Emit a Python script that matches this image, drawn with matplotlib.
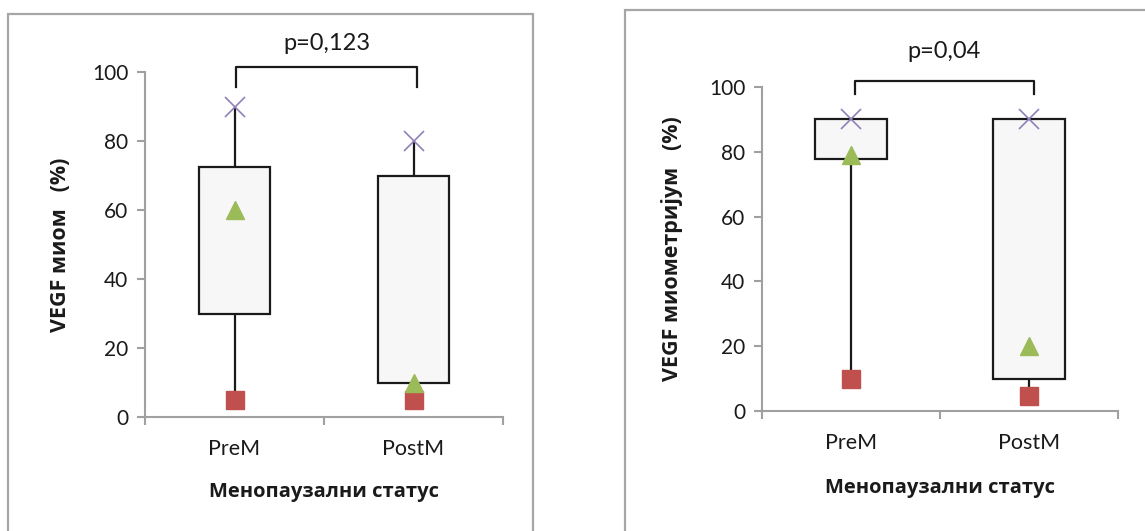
import matplotlib.pyplot as plt
from matplotlib.patches import Rectangle

plt.rcParams['font.family'] = ['Lato', 'Open Sans', 'DejaVu Sans']
LBL = ['Open Sans', 'DejaVu Sans']

W, H = 1145, 531

# podaci: lijevi graf (miom), desni graf (miometrijum)
groups = ['PreM', 'PostM']

mioma_max = [90, 80]
mioma_q3 = [72.5, 70]
mioma_q1 = [30, 10]
mioma_min = [5, 5]
mioma_tri = [60, 10]
mioma_p = 'p=0,123'

miomet_max = [90, 90]
miomet_q3 = [90, 90]
miomet_q1 = [77.8, 10]
miomet_min = [10, 4.5]
miomet_tri = [79, 20]
miomet_p = 'p=0,04'

yticks = [0, 20, 40, 60, 80, 100]


def px(x, y):
    return x / W, 1 - y / H


fig = plt.figure(figsize=(W / 100, H / 100), dpi=100)

# okviri oko grafova
for (x0, y0, x1, y1) in [(8, 14, 533, 540), (625, 10, 1150, 540)]:
    fig.patches.append(Rectangle(px(x0, y1), (x1 - x0) / W, (y1 - y0) / H,
                                 transform=fig.transFigure, fill=False,
                                 edgecolor='#a6a6a6', linewidth=1.6))


def draw(rect, vmax, q3, q1, vmin, tri, ptxt, ylabel, br, ylab_x, xlab_y, ptxt_y):
    ax = fig.add_axes(rect)
    x = [1, 2]
    ax.vlines(x, vmin, vmax, colors='#1a1a1a', linewidth=1.6, zorder=1)
    for xi, lo, hi in zip(x, q1, q3):
        ax.add_patch(Rectangle((xi - 0.2, lo), 0.4, hi - lo, facecolor='#f7f7f7',
                               edgecolor='#1a1a1a', linewidth=1.6, zorder=2))
    ax.plot(x, vmin, 's', color='#c0504d', markersize=13, zorder=3, clip_on=False)
    ax.plot(x, tri, '^', color='#9bbb59', markersize=13, zorder=4, clip_on=False)
    ax.plot(x, vmax, 'x', color='#9080b8', markersize=14, markeredgewidth=1.2,
            zorder=5, clip_on=False)

    ax.set_xlim(0.5, 2.5)
    ax.set_ylim(0, 100)
    ax.set_yticks(yticks)
    ax.set_xticks([0.5, 1.5, 2.5])
    ax.set_xticklabels([])
    ax.set_xticks(x, minor=True)
    ax.set_xticklabels(groups, minor=True, fontsize=15.5)
    ax.tick_params(axis='x', which='minor', length=0, pad=16, colors='#1a1a1a')
    ax.tick_params(axis='x', which='major', length=6, width=1.5, color='#a0a0a0')
    ax.tick_params(axis='y', length=6, width=1.5, color='#a0a0a0', labelsize=15,
                   labelcolor='#1a1a1a', pad=6)
    for s in ['top', 'right']:
        ax.spines[s].set_visible(False)
    for s in ['left', 'bottom']:
        ax.spines[s].set_color('#a0a0a0')
        ax.spines[s].set_linewidth(1.5)

    # zagrada sa p vrijednoscu
    bx0, bx1, btop, bleg = br
    ax.plot([bx0, bx0, bx1, bx1], [bleg, btop, btop, bleg], color='#1a1a1a',
            linewidth=1.6, clip_on=False, solid_joinstyle='round')

    cx = (rect[0] + rect[2] * (0.5 * (bx0 + bx1) - 0.5) / 2)
    fig.text(cx, 1 - ptxt_y / H, ptxt, ha='center', va='center', fontsize=17,
             color='#1a1a1a')
    fig.text(ylab_x / W, rect[1] + rect[3] / 2, ylabel, rotation=90, ha='center',
             va='center', fontsize=15.5, fontweight='bold', color='#1a1a1a', family=LBL)
    fig.text(rect[0] + rect[2] / 2, 1 - xlab_y / H, 'Менопаузални статус', ha='center',
             va='center', fontsize=14.5, fontweight='bold', color='#1a1a1a', family=LBL)
    return ax


draw([145 / W, 1 - 417 / H, 358 / W, 345 / H], mioma_max, mioma_q3, mioma_q1,
     mioma_min, mioma_tri, mioma_p, 'VEGF миом   (%)', (1.01, 2.02, 101.4, 95.6),
     60, 492, 43)
draw([762 / W, 1 - 411 / H, 356 / W, 324 / H], miomet_max, miomet_q3, miomet_q1,
     miomet_min, miomet_tri, miomet_p, 'VEGF миометријум   (%)', (1.02, 2.03, 101.9, 97.8),
     672, 488, 52)

fig.savefig('out.png', dpi=100)
